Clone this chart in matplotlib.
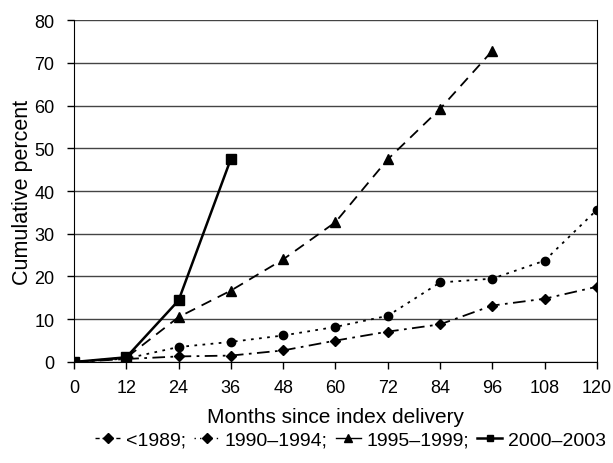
import matplotlib.pyplot as plt
from matplotlib.lines import Line2D

plt.rcParams['font.family'] = ['Liberation Sans', 'DejaVu Sans']

# data
months = [0, 12, 24, 36, 48, 60, 72, 84, 96, 108, 120]
pre_1989 = [0, 0.7, 1.3, 1.5, 2.7, 5.0, 7.1, 8.8, 13.2, 14.8, 17.6]
y1990_1994 = [0, 0.8, 3.5, 4.7, 6.2, 8.2, 10.8, 18.6, 19.5, 23.7, 35.6]
y1995_1999 = [0, 1.0, 10.5, 16.7, 24.0, 32.7, 47.4, 59.2, 72.8]
y2000_2003 = [0, 1.1, 14.4, 47.5]
labels = ['<1989;', '1990\u20131994;', '1995\u20131999;', '2000\u20132003']

fig = plt.figure(figsize=(6.13, 4.64), dpi=100)
ax = fig.add_axes([0.1207, 0.2177, 0.853, 0.737])

ax.plot(months, pre_1989, color='black', lw=1.3, ls=(0, (7, 3, 1.5, 3)),
        marker='D', ms=5.5, zorder=3)
ax.plot(months, y1990_1994, color='black', lw=1.3, ls=(0, (1.5, 3)),
        marker='o', ms=6, zorder=3)
ax.plot(months[:len(y1995_1999)], y1995_1999, color='black', lw=1.3,
        ls=(0, (6, 4)), marker='^', ms=7, zorder=3)
ax.plot(months[:len(y2000_2003)], y2000_2003, color='black', lw=1.8,
        marker='s', ms=6.5, zorder=4)

ax.set_xlim(0, 120)
ax.set_ylim(0, 80)
ax.set_xticks(months)
ax.set_yticks(range(0, 81, 10))
ax.yaxis.grid(True, color='#444444', lw=1)
ax.set_axisbelow(True)
for s in ax.spines.values():
    s.set_color('black')
ax.spines['top'].set_visible(False)
ax.tick_params(axis='both', labelsize=13, direction='out', length=5,
               color='black', width=1)
ax.tick_params(axis='x', pad=7)
ax.tick_params(axis='y', pad=9)

ax.set_xlabel('Months since index delivery', fontsize=15, labelpad=8)
ax.set_ylabel('Cumulative percent', fontsize=15.5, labelpad=1)

handles = [
    Line2D([], [], color='black', lw=1, ls=(0, (3, 2)), marker='D', ms=5),
    Line2D([], [], color='black', lw=1, ls=(0, (1, 3)), marker='D', ms=5),
    Line2D([], [], color='black', lw=1, ls='-', marker='^', ms=6),
    Line2D([], [], color='black', lw=1.8, ls='-', marker='s', ms=5),
]
fig.legend(handles, labels, loc='center', bbox_to_anchor=(0.572, 0.05),
           ncol=4, frameon=False, fontsize=14, handlelength=1.3,
           handletextpad=0.3, columnspacing=0.4, borderaxespad=0.2)

fig.savefig('out.png', dpi=100)
